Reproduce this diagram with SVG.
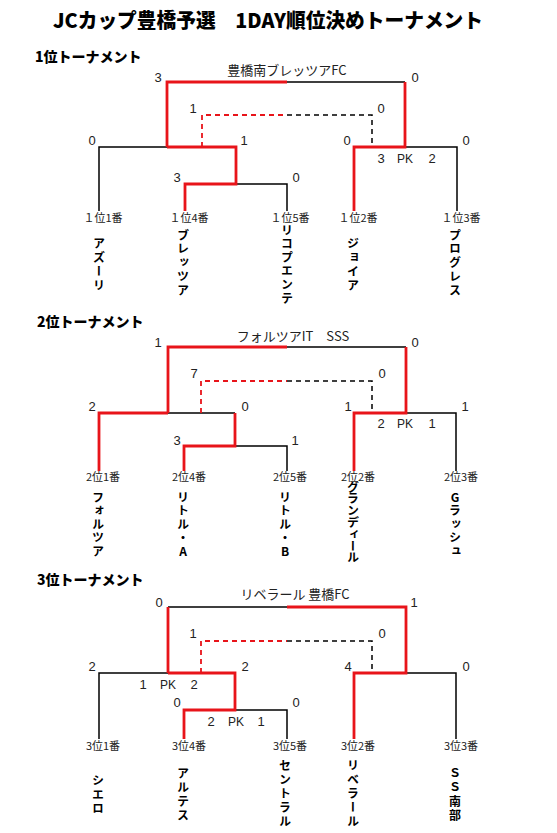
<svg xmlns="http://www.w3.org/2000/svg" width="557" height="833" viewBox="0 0 557 833">
<style>
.bk{fill:none;stroke:#000;stroke-width:1.5}
.rd{fill:none;stroke:#e8141a;stroke-width:2.8}
.bkd{fill:none;stroke:#000;stroke-width:1.5;stroke-dasharray:5 4}
.rdd{fill:none;stroke:#e8141a;stroke-width:1.8;stroke-dasharray:5 4}
.sc{font-family:"Liberation Sans","Noto Sans CJK JP",sans-serif;font-size:13px;fill:#222;text-anchor:middle}
.pk{font-size:12px}
.ttl{font-family:"Noto Sans CJK JP",sans-serif;font-size:13px;fill:#222;text-anchor:middle}
.lb{font-family:"Noto Sans CJK JP",sans-serif;font-size:11px;fill:#222;text-anchor:middle}
.nm{font-family:"Noto Sans CJK JP",sans-serif;font-size:12px;font-weight:bold;fill:#000;writing-mode:vertical-rl;text-orientation:upright}
.hd{font-family:"Noto Sans CJK JP",sans-serif;font-size:14px;font-weight:900;fill:#000}
</style>
<rect width="557" height="833" fill="#fff"/>
<text x="268" y="28" font-family="Noto Sans CJK JP,sans-serif" font-size="20" font-weight="900" text-anchor="middle" textLength="430" lengthAdjust="spacingAndGlyphs">JCカップ豊橋予選　1DAY順位決めトーナメント</text>
<text class="hd" x="35" y="62">1位トーナメント</text>
<text class="hd" x="37" y="327">2位トーナメント</text>
<text class="hd" x="37" y="585">3位トーナメント</text>

<g id="connectors">
<!-- T1 -->
<path class="bk" d="M287 82H405M99 211V147H167M236 184H287V211M405 147H457V211"/>
<path class="rd" d="M167 147V82H287M405 82V147H354V211M167 147H236V184H185V211"/>
<path class="rdd" d="M202 147V115H287"/>
<path class="bkd" d="M287 115H372V147"/>
<!-- T2 -->
<path class="bk" d="M287 347H406M168 413H235M235 446H287V471M406 413H456V471"/>
<path class="rd" d="M168 413V347H287M406 347V413H354V471M99 471V413H168M235 413V446H184V471"/>
<path class="rdd" d="M201 413V381H287"/>
<path class="bkd" d="M287 381H372V413"/>
<!-- T3 -->
<path class="bk" d="M168 607H287M99 739V673H168M235 710H287V739M406 673H456V739"/>
<path class="rd" d="M168 673V607M287 607H406V673H354V739M168 673H235V710H184V739"/>
<path class="rdd" d="M201 673V641H287"/>
<path class="bkd" d="M287 641H372V673"/>
</g>

<g id="t1-scores">
<text class="ttl" x="287" y="75">豊橋南ブレッツアFC</text>
<text class="sc" x="158" y="81.5">3</text><text class="sc" x="415" y="81.5">0</text>
<text class="sc" x="193" y="112.5">1</text><text class="sc" x="381" y="112.5">0</text>
<text class="sc" x="92" y="144.5">0</text><text class="sc" x="244" y="144.5">1</text>
<text class="sc" x="347" y="144.5">0</text><text class="sc" x="466" y="144.5">0</text>
<text class="sc" x="381" y="162.5">3</text><text class="sc pk" x="405" y="162.5">PK</text><text class="sc" x="432" y="162.5">2</text>
<text class="sc" x="177" y="181.5">3</text><text class="sc" x="296" y="181.5">0</text>
</g>
<g id="t1-1"><text class="lb" x="103" y="222">１位1番</text><text class="nm" x="99" y="237" letter-spacing="2.3">アズーリ</text></g>
<g id="t1-4"><text class="lb" x="189" y="222">１位4番</text><text class="nm" x="183" y="229" letter-spacing="1.8">ブレッツア</text></g>
<g id="t1-5"><text class="lb" x="290" y="222">１位5番</text><text class="nm" x="287" y="224" letter-spacing="1.6">リコプエンテ</text></g>
<g id="t1-2"><text class="lb" x="358" y="222">１位2番</text><text class="nm" x="353" y="237" letter-spacing="2">ジョイア</text></g>
<g id="t1-3"><text class="lb" x="461" y="222">１位3番</text><text class="nm" x="455" y="229" letter-spacing="1.8">プログレス</text></g>

<g id="t2-scores">
<text class="ttl" x="293" y="341">フォルツアIT　SSS</text>
<text class="sc" x="158" y="346.5">1</text><text class="sc" x="415" y="346.5">0</text>
<text class="sc" x="194" y="377.5">7</text><text class="sc" x="382" y="377.5">0</text>
<text class="sc" x="92" y="410.5">2</text><text class="sc" x="245" y="410.5">0</text>
<text class="sc" x="348" y="410.5">1</text><text class="sc" x="465" y="410.5">1</text>
<text class="sc" x="381" y="427.5">2</text><text class="sc pk" x="405" y="427.5">PK</text><text class="sc" x="432" y="427.5">1</text>
<text class="sc" x="177" y="444.5">3</text><text class="sc" x="295" y="444.5">1</text>
</g>
<g id="t2-1"><text class="lb" x="103" y="481">2位1番</text><text class="nm" x="98" y="491" letter-spacing="1.5">フォルツア</text></g>
<g id="t2-4"><text class="lb" x="189" y="481">2位4番</text><text class="nm" x="183" y="491" letter-spacing="1.7">リトル・A</text></g>
<g id="t2-5"><text class="lb" x="290" y="481">2位5番</text><text class="nm" x="285" y="491" letter-spacing="1.7">リトル・B</text></g>
<g id="t2-2"><text class="lb" x="358" y="481">2位2番</text><text class="nm" x="353" y="481" letter-spacing="-0.2">グランディール</text></g>
<g id="t2-3"><text class="lb" x="461" y="481">2位3番</text><text class="nm" x="455" y="491" letter-spacing="1.5">Gラッシュ</text></g>

<g id="t3-scores">
<text class="ttl" x="295" y="599">リベラール 豊橋FC</text>
<text class="sc" x="159" y="606.5">0</text><text class="sc" x="414" y="606.5">1</text>
<text class="sc" x="193" y="637.5">1</text><text class="sc" x="382" y="637.5">0</text>
<text class="sc" x="92" y="670.5">2</text><text class="sc" x="245" y="670.5">2</text>
<text class="sc" x="348" y="670.5">4</text><text class="sc" x="466" y="670.5">0</text>
<text class="sc" x="143" y="688.5">1</text><text class="sc pk" x="168" y="688.5">PK</text><text class="sc" x="194" y="688.5">2</text>
<text class="sc" x="177" y="706.5">0</text><text class="sc" x="296" y="706.5">0</text>
<text class="sc" x="211" y="725.5">2</text><text class="sc pk" x="236" y="725.5">PK</text><text class="sc" x="261" y="725.5">1</text>
</g>
<g id="t3-1"><text class="lb" x="103" y="750">3位1番</text><text class="nm" x="98" y="774" letter-spacing="2">シエロ</text></g>
<g id="t3-4"><text class="lb" x="189" y="750">3位4番</text><text class="nm" x="183" y="767" letter-spacing="2">アルテス</text></g>
<g id="t3-5"><text class="lb" x="290" y="750">3位5番</text><text class="nm" x="285" y="759" letter-spacing="2">セントラル</text></g>
<g id="t3-2"><text class="lb" x="358" y="750">3位2番</text><text class="nm" x="353" y="759" letter-spacing="2">リベラール</text></g>
<g id="t3-3"><text class="lb" x="461" y="750">3位3番</text><text class="nm" x="455" y="767" letter-spacing="2">ＳＳ南部</text></g>
</svg>
